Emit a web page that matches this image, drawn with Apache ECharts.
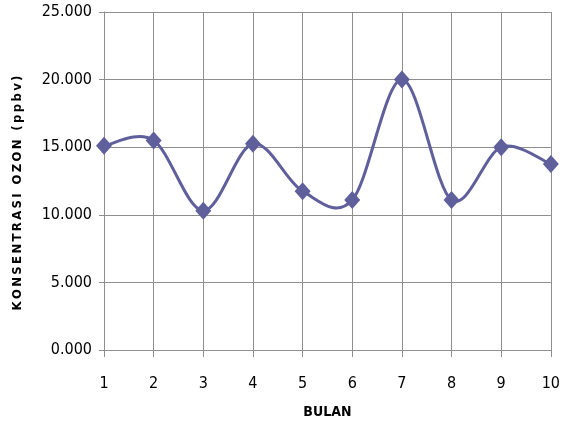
<!DOCTYPE html>
<html><head><meta charset="utf-8">
<script src="https://cdn.jsdelivr.net/npm/echarts@6/dist/echarts.min.js"></script>
<style>html,body{margin:0;padding:0;background:#fff}#c{width:563px;height:434px}</style>
</head><body><div id="c"></div>
<script>
const bulan = ['1','2','3','4','5','6','7','8','9','10'];
const ozon = [15.1, 15.5, 10.3, 15.25, 11.75, 11.1, 20.0, 11.1, 15.0, 13.75];
const yTicks = [0, 5, 10, 15, 20, 25];
const yTitle = 'KONSENTRASI OZON (ppbv)';

const chart = echarts.init(document.getElementById('c'), null, {renderer: 'canvas'});
const gridColor = '#8e8e8e';
const lineColor = '#5f5f9c';
const lblFont = "'DejaVu Sans Condensed', sans-serif";

// Excel-like smoothed segment between point i and i+1 (Catmull-Rom style, tension 1/6)
function renderSeg(params, api) {
  const i = params.dataIndex;
  if (i >= ozon.length - 1) return null;
  const n = ozon.length;
  const P = k => api.coord([Math.max(0, Math.min(n - 1, k)), ozon[Math.max(0, Math.min(n - 1, k))]]);
  const p0 = P(i - 1), p1 = P(i), p2 = P(i + 1), p3 = P(i + 2);
  const t = 1 / 6;
  return {
    type: 'bezierCurve',
    shape: {
      x1: p1[0], y1: p1[1], x2: p2[0], y2: p2[1],
      cpx1: p1[0] + (p2[0] - p0[0]) * t, cpy1: p1[1] + (p2[1] - p0[1]) * t,
      cpx2: p2[0] - (p3[0] - p1[0]) * t, cpy2: p2[1] - (p3[1] - p1[1]) * t
    },
    style: {stroke: lineColor, lineWidth: 3, fill: null, lineCap: 'round', lineJoin: 'round'}
  };
}

chart.setOption({
  animation: false,
  backgroundColor: '#ffffff',
  grid: {left: 104, right: 8, top: 12, bottom: 84, containLabel: false},
  xAxis: {
    type: 'category', data: bulan, boundaryGap: false,
    name: 'BULAN', nameLocation: 'middle', nameGap: 55,
    nameTextStyle: {fontFamily: lblFont, fontWeight: 'bold', fontSize: 14, color: '#000'},
    axisLine: {lineStyle: {color: gridColor, width: 1}},
    axisTick: {show: true, length: 7, lineStyle: {color: gridColor}},
    axisLabel: {color: '#000', fontFamily: lblFont, fontSize: 16, margin: 26},
    splitLine: {show: true, lineStyle: {color: gridColor, width: 1}}
  },
  yAxis: {
    type: 'value', min: yTicks[0], max: yTicks[yTicks.length-1], interval: 5,
    name: yTitle.split('').join('\u2009'), nameLocation: 'middle', nameGap: 80,
    nameTextStyle: {fontFamily: lblFont, fontWeight: 'bold', fontSize: 13, color: '#000',
      padding: [0, 24, 0, 0]},
    axisLine: {show: true, lineStyle: {color: gridColor, width: 1}},
    axisTick: {show: true, length: 5, lineStyle: {color: gridColor}},
    axisLabel: {color: '#000', fontFamily: lblFont, fontSize: 16, margin: 12,
      formatter: v => v.toFixed(3)},
    splitLine: {show: true, lineStyle: {color: gridColor, width: 1}}
  },
  series: [{
    type: 'custom', renderItem: renderSeg,
    data: ozon.map((v, i) => [i, v]), encode: {x: 0, y: 1}, clip: false, z: 2
  }, {
    type: 'scatter', data: ozon.map((v, i) => [i, v]),
    symbol: 'diamond', symbolSize: [16, 18], z: 3,
    itemStyle: {color: lineColor, opacity: 1}
  }]
});
</script></body></html>
